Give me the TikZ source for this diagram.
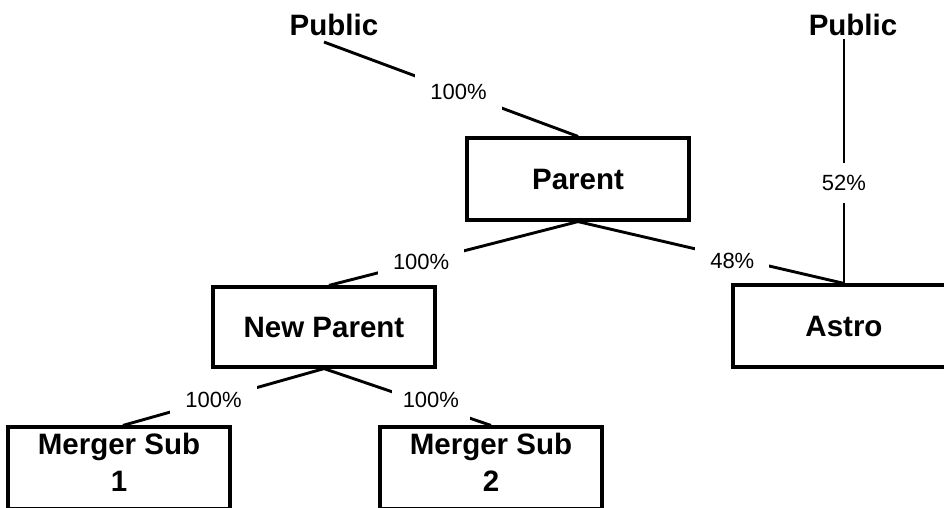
\documentclass[tikz,border=0pt]{standalone}
\usepackage{fontspec}
\setmainfont{Liberation Sans}
\begin{document}
\begin{tikzpicture}[x=1pt,y=-1pt,
  box/.style={draw, line width=3.2pt, minimum width=222pt, minimum height=82pt, inner sep=0pt, font=\fontsize{29.5}{37}\selectfont\bfseries},
  ttl/.style={inner sep=2pt, font=\fontsize{29.5}{37}\selectfont\bfseries},
  pct/.style={fill=white, inner xsep=15pt, inner ysep=12pt, font=\fontsize{22}{26}\selectfont},
  conn/.style={line width=2.9pt}]
\useasboundingbox (0,0) rectangle (944,507);
\clip (0,0) rectangle (944,507);
\node[ttl] (pub1) at (334,25) {Public};
\node[ttl] (pub2) at (853,25) {Public};
\node[box] (parent) at (578,179) {Parent};
\node[box] (astro) at (844,326) {Astro};
\node[box, minimum height=80pt] (np) at (324,327) {New Parent};
\node[box, label={[align=center,font=\fontsize{29.5}{37}\selectfont\bfseries,yshift=6pt]center:Merger Sub\\1}] (ms1) at (119,468) {};
\node[box, label={[align=center,font=\fontsize{29.5}{37}\selectfont\bfseries,yshift=6pt]center:Merger Sub\\2}] (ms2) at (491,468) {};
\draw[conn] ([xshift=-10pt,yshift=-4pt]pub1.south) -- node[pct, pos=0.53] {100\%} (parent.north);
\draw[conn] ([yshift=-1pt]pub2.south -| astro.north) -- node[pct, pos=0.59] {52\%} (astro.north);
\draw[conn] (parent.south) -- node[pct, pos=0.63] {100\%} ([xshift=5pt]np.north);
\draw[conn] (parent.south) -- node[pct, pos=0.58, yshift=-3pt] {48\%} (astro.north);
\draw[conn] (np.south) -- node[pct, pos=0.55] {100\%} ([xshift=4pt]ms1.north);
\draw[conn] (np.south) -- node[pct, pos=0.64, yshift=5pt, inner xsep=11pt] {100\%} (ms2.north);
\end{tikzpicture}
\end{document}
